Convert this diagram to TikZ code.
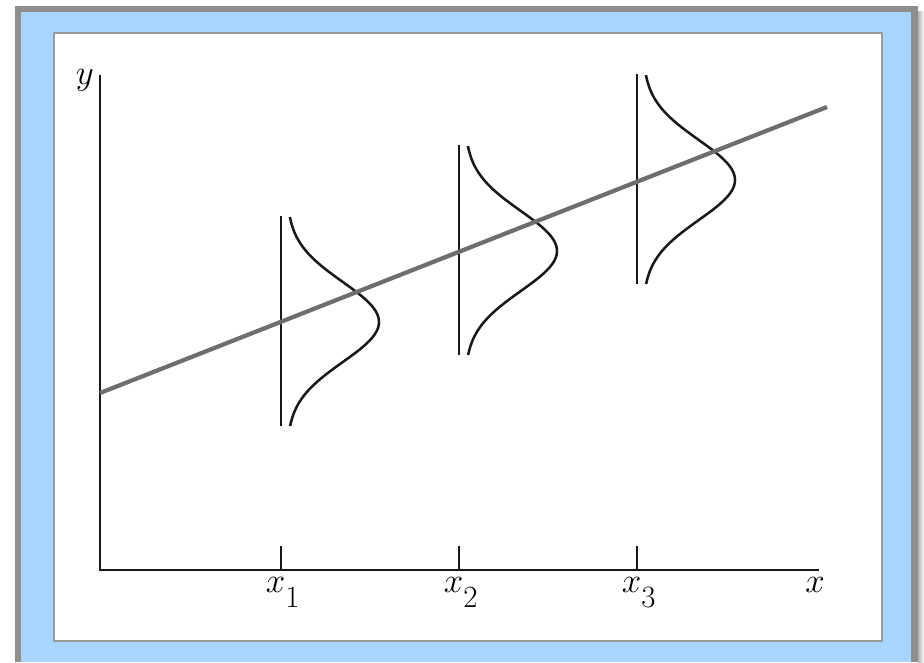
\documentclass[tikz,border=0pt]{standalone}
\usetikzlibrary{positioning}
\definecolor{framegray}{HTML}{8E8E8E}
\definecolor{frameblue}{HTML}{A8D5FF}
\definecolor{linegray}{HTML}{6E6E6E}
\newcommand{\xlab}[1]{$x_{\raisebox{-0.6ex}{\fontsize{22}{22}\selectfont #1}}$}

\begin{document}
\begin{tikzpicture}[x=0.025cm, y=-0.025cm, every node/.style={font=\fontsize{27}{27}\selectfont},
  axis/.style={line width=1.7pt, black!90},
  curve/.style={line width=1.8pt, black!90},
  fitline/.style={line width=3pt, linegray}]
\useasboundingbox (0,0) rectangle (924,662);
% frame
\fill[framegray] (15,6) rectangle (918,662);
\shade[left color=framegray!70, right color=white] (918,12) rectangle (924,662);
\fill[frameblue] (21,12) rectangle (911,662);
\draw[fill=white, draw=black!40, line width=1.2pt] (54,33) rectangle (882,641);
% axes
\coordinate (O) at (100,570);
\coordinate (ytop) at (100,75);
\coordinate (xend) at (819,570);
\draw[axis] (ytop) -- (O) -- (xend);
\node[anchor=east, inner sep=2pt] (ylab) at (97,80) {$y$};
\node[anchor=north, inner sep=2pt] (xlab) at (815,574) {$x$};
% distributions
\foreach \i/\xc/\yc in {1/281/322, 2/459/251, 3/637/180} {
  \coordinate (t\i) at (\xc,546);
  \coordinate (b\i) at (\xc,570);
  \draw[axis] (t\i) -- (b\i);
  \node[anchor=north, inner sep=2pt] (x\i) at (\xc+2,574) {\xlab{\i}};
  \coordinate (v\i) at (\xc,\yc-106);
  \coordinate (w\i) at (\xc,\yc+104);
  \draw[curve] (v\i) -- (w\i);
  \draw[curve] plot[domain=-105:104, samples=70, smooth, variable=\t]
    ({\xc+6+92*exp(-((\t/40)^2)/2)}, {\yc+\t});
}
% regression line
\coordinate (r0) at (100,393);
\coordinate (r1) at (827,107);
\draw[fitline] (r0) -- (r1);
\end{tikzpicture}
\end{document}
